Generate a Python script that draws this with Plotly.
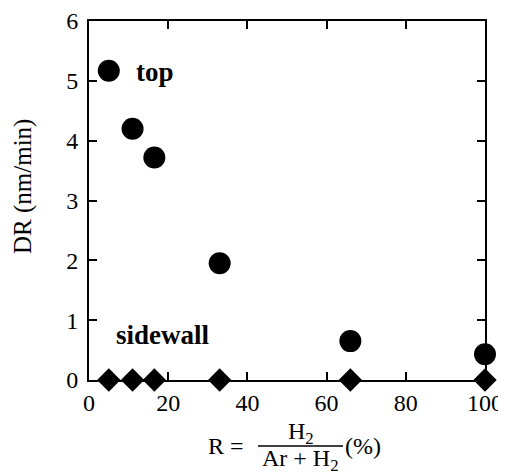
import plotly.graph_objects as go

# Data
r_top = [5, 11, 16.5, 33, 66, 100]
dr_top = [5.17, 4.2, 3.72, 1.95, 0.65, 0.43]
r_side = [5, 11, 16.5, 33, 66, 100]
dr_side = [0, 0, 0, 0, 0, 0]
x_ticks = [0, 20, 40, 60, 80, 100]
y_ticks = [0, 1, 2, 3, 4, 5, 6]

FONT = "Liberation Serif, Times New Roman, serif"

fig = go.Figure()
fig.add_trace(go.Scatter(x=r_top, y=dr_top, mode="markers",
                         marker=dict(symbol="circle", size=22, color="black"),
                         cliponaxis=False, showlegend=False))
fig.add_trace(go.Scatter(x=r_side, y=dr_side, mode="markers",
                         marker=dict(symbol="diamond", size=18, color="black"),
                         cliponaxis=False, showlegend=False))

axis_common = dict(showgrid=False, zeroline=False, showline=True, linecolor="black",
                   linewidth=2, ticks="inside", ticklen=8, tickwidth=2, tickcolor="black",
                   mirror="ticks", automargin=False,
                   tickfont=dict(family=FONT, size=24, color="black"))

fig.update_xaxes(range=[0, 100], tickvals=x_ticks, **axis_common)
fig.update_yaxes(range=[0, 6], tickvals=y_ticks, ticklabelstandoff=4, **axis_common)

# page offset of the figure (default body margin)
OFF = 8

def px(x):
    return (x - 89) / 396

def py(y):
    return (380 - y) / 359

ann = []
ann.append(dict(text="DR (nm/min)", x=px(23), y=py(187), textangle=-90,
                font=dict(family=FONT, size=25, color="black")))
ann.append(dict(text="<b>top</b>", x=px(155), y=py(72),
                font=dict(family=FONT, size=27, color="black")))
ann.append(dict(text="<b>sidewall</b>", x=px(163), y=py(335),
                font=dict(family=FONT, size=27, color="black")))
ann.append(dict(text="R =", x=px(226), y=py(446),
                font=dict(family=FONT, size=24, color="black")))
ann.append(dict(text="H<sub>2</sub>", x=px(301), y=py(433),
                font=dict(family=FONT, size=24, color="black")))
ann.append(dict(text="Ar + H<sub>2</sub>", x=px(300), y=py(460),
                font=dict(family=FONT, size=24, color="black")))
ann.append(dict(text="(%)", x=px(363), y=py(446),
                font=dict(family=FONT, size=24, color="black")))
for a in ann:
    a.update(xref="paper", yref="paper", showarrow=False, xanchor="center", yanchor="middle")

fig.update_layout(
    template="none",
    width=506 - OFF, height=475 - OFF,
    margin=dict(l=89 - OFF, r=21, t=21 - OFF, b=95, autoexpand=False),
    paper_bgcolor="white", plot_bgcolor="white",
    annotations=ann,
    shapes=[dict(type="line", xref="paper", yref="paper",
                 x0=px(258), x1=px(343), y0=py(446), y1=py(446),
                 line=dict(color="black", width=1.5))],
)

fig.write_html("out.html")
